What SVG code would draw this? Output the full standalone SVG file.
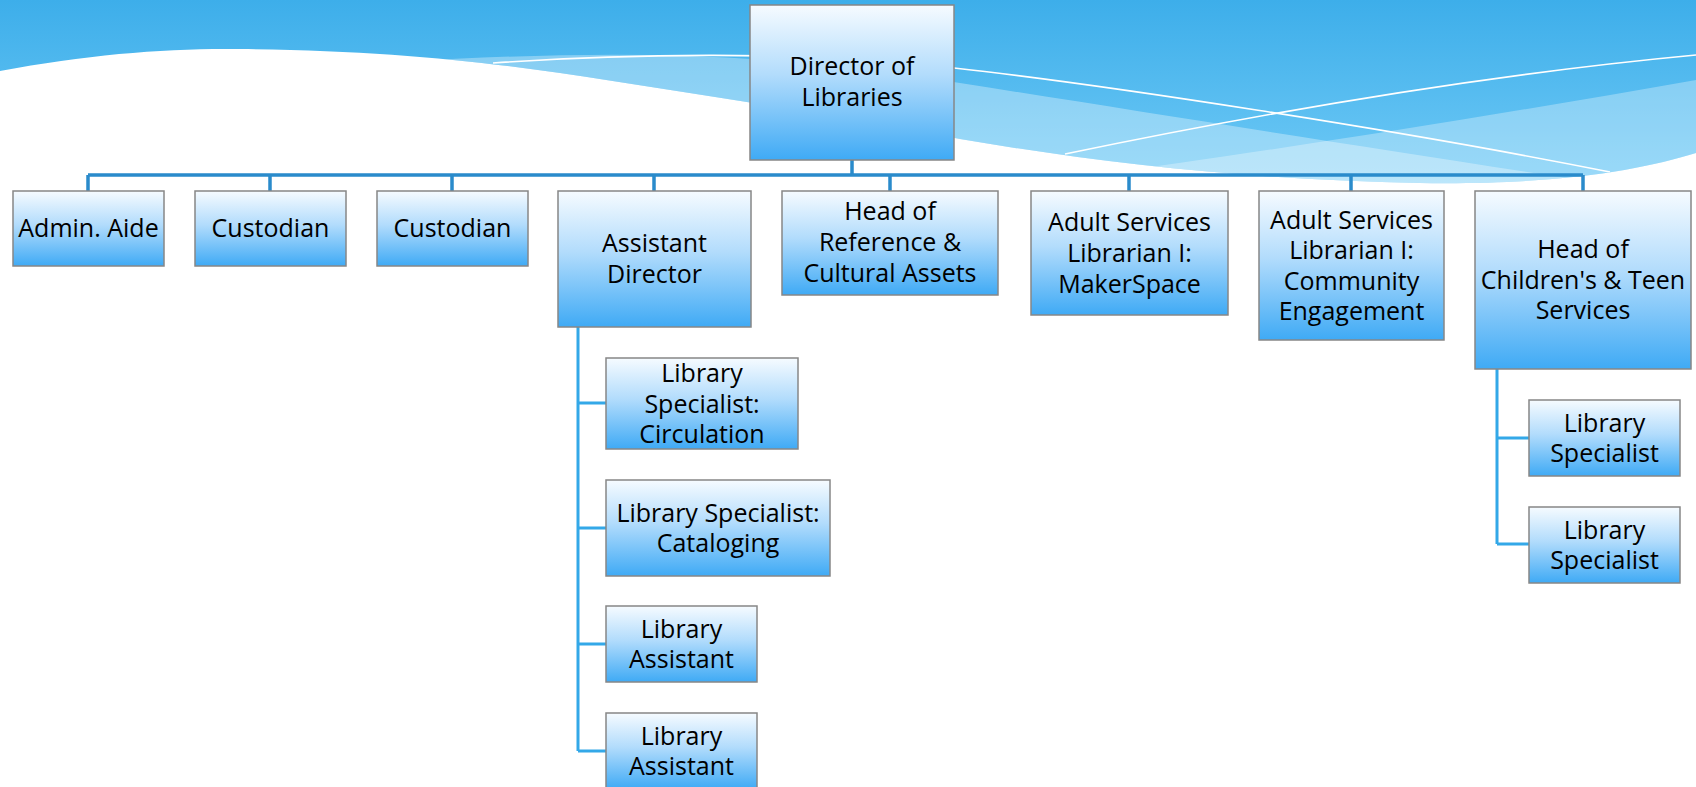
<svg xmlns="http://www.w3.org/2000/svg" width="1696" height="787" viewBox="0 0 1696 787">
<defs>
  <linearGradient id="sky" x1="0" y1="0" x2="0" y2="185" gradientUnits="userSpaceOnUse">
    <stop offset="0" stop-color="#3daeea"/>
    <stop offset="1" stop-color="#70caf6"/>
  </linearGradient>
  <linearGradient id="box" x1="0" y1="0" x2="0" y2="1">
    <stop offset="0" stop-color="#f6fbff"/>
    <stop offset="0.45" stop-color="#b2dcfc"/>
    <stop offset="1" stop-color="#3faaf5"/>
  </linearGradient>
  <clipPath id="skyclip">
    <path d="M0,71 C90,54 170,48 240,49 C370,50 470,60 560,73 C700,94 850,118 960,139 C1100,163 1250,180 1420,183 C1560,185 1640,170 1696,153 L1696,0 L0,0 Z"/>
  </clipPath>
  <style>
    .node rect { fill: url(#box); stroke: #878787; stroke-width: 1.5; }
    .node text { font-family: "Open Sans", "Liberation Sans", sans-serif; font-size: 25px; fill: #000; text-anchor: middle; }
    .bus { stroke: #2a8bcb; stroke-width: 3.5; fill: none; }
    .sub { stroke: #33a8e8; stroke-width: 3; fill: none; }
    .wline { stroke: #ffffff; stroke-width: 1.6; fill: none; }
  </style>
</defs>

<!-- background -->
<rect x="0" y="0" width="1696" height="787" fill="#ffffff"/>
<g id="background" clip-path="url(#skyclip)">
  <rect x="0" y="0" width="1696" height="200" fill="url(#sky)"/>
  <path d="M400,62 C600,50 760,50 960,83 C1150,113 1350,145 1580,180 L1580,300 L400,300 Z" fill="#ffffff" fill-opacity="0.33"/>
  <path d="M1100,174 C1250,154 1480,118 1696,80 L1696,300 L1100,300 Z" fill="#ffffff" fill-opacity="0.3"/>
  <path class="wline" d="M493,63 C620,54 800,50 954,68 C1100,84 1400,130 1610,172"/>
  <path class="wline" d="M1065,154 C1200,126 1450,78 1696,55"/>
</g>

<!-- connectors -->
<g id="connectors">
  <path class="bus" d="M852,160 V175 M88,175 H1583 M88,175 V191 M270,175 V191 M452,175 V191 M654,175 V191 M890,175 V191 M1129,175 V191 M1351,175 V191 M1583,175 V191"/>
  <path class="sub" d="M578,327 V751 M578,403 H606 M578,528 H606 M578,644 H606 M578,751 H606"/>
  <path class="sub" d="M1497,369 V544 M1497,438 H1529 M1497,544 H1529"/>
</g>

<g id="director" class="node">
  <rect x="750" y="5" width="204" height="155"/>
  <text><tspan x="852" y="75">Director of</tspan><tspan x="852" y="106">Libraries</tspan></text>
</g>
<g id="admin-aide" class="node">
  <rect x="13" y="191" width="151" height="75"/>
  <text x="88.5" y="237">Admin. Aide</text>
</g>
<g id="custodian-1" class="node">
  <rect x="195" y="191" width="151" height="75"/>
  <text x="270.5" y="237">Custodian</text>
</g>
<g id="custodian-2" class="node">
  <rect x="377" y="191" width="151" height="75"/>
  <text x="452.5" y="237">Custodian</text>
</g>
<g id="assistant-director" class="node">
  <rect x="558" y="191" width="193" height="136"/>
  <text><tspan x="654.5" y="252">Assistant</tspan><tspan x="654.5" y="282.5">Director</tspan></text>
</g>
<g id="head-reference" class="node">
  <rect x="782" y="191" width="216" height="104"/>
  <text><tspan x="890" y="220">Head of</tspan><tspan x="890" y="251">Reference &amp;</tspan><tspan x="890" y="282">Cultural Assets</tspan></text>
</g>
<g id="adult-makerspace" class="node">
  <rect x="1031" y="191" width="197" height="124"/>
  <text><tspan x="1129.5" y="231">Adult Services</tspan><tspan x="1129.5" y="262">Librarian I:</tspan><tspan x="1129.5" y="293">MakerSpace</tspan></text>
</g>
<g id="adult-community" class="node">
  <rect x="1259" y="191" width="185" height="149"/>
  <text><tspan x="1351.5" y="228.5">Adult Services</tspan><tspan x="1351.5" y="259">Librarian I:</tspan><tspan x="1351.5" y="289.5">Community</tspan><tspan x="1351.5" y="320">Engagement</tspan></text>
</g>
<g id="head-children" class="node">
  <rect x="1475" y="191" width="216" height="178"/>
  <text><tspan x="1583" y="258">Head of</tspan><tspan x="1583" y="288.5">Children's &amp; Teen</tspan><tspan x="1583" y="319">Services</tspan></text>
</g>
<g id="lib-spec-circulation" class="node">
  <rect x="606" y="358" width="192" height="91"/>
  <text><tspan x="702" y="382">Library</tspan><tspan x="702" y="412.5">Specialist:</tspan><tspan x="702" y="443">Circulation</tspan></text>
</g>
<g id="lib-spec-cataloging" class="node">
  <rect x="606" y="480" width="224" height="96"/>
  <text><tspan x="718" y="521.5">Library Specialist:</tspan><tspan x="718" y="552">Cataloging</tspan></text>
</g>
<g id="lib-assistant-1" class="node">
  <rect x="606" y="606" width="151" height="76"/>
  <text><tspan x="681.5" y="637.5">Library</tspan><tspan x="681.5" y="668">Assistant</tspan></text>
</g>
<g id="lib-assistant-2" class="node">
  <rect x="606" y="713" width="151" height="76"/>
  <text><tspan x="681.5" y="744.5">Library</tspan><tspan x="681.5" y="775">Assistant</tspan></text>
</g>
<g id="lib-spec-1" class="node">
  <rect x="1529" y="400" width="151" height="76"/>
  <text><tspan x="1604.5" y="431.5">Library</tspan><tspan x="1604.5" y="462">Specialist</tspan></text>
</g>
<g id="lib-spec-2" class="node">
  <rect x="1529" y="507" width="151" height="76"/>
  <text><tspan x="1604.5" y="538.5">Library</tspan><tspan x="1604.5" y="569">Specialist</tspan></text>
</g>
</svg>
